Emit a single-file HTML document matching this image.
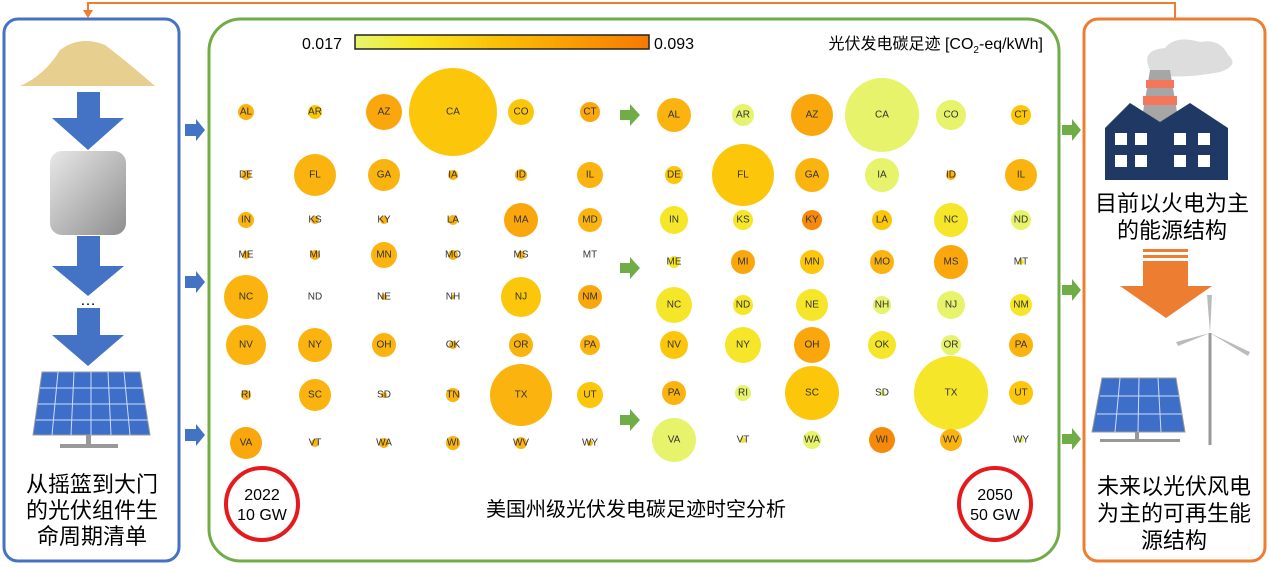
<!DOCTYPE html>
<html><head><meta charset="utf-8"><style>
html,body{margin:0;padding:0;background:#fff;width:1270px;height:568px;overflow:hidden}
svg{display:block}
text{font-family:"Liberation Sans","Noto Sans CJK SC",sans-serif}
.s text{font-size:10px;fill:#333;text-anchor:middle;dominant-baseline:central}
.cn{font-size:22px;fill:#000;text-anchor:middle}
.o{fill:#fbb30f}.y{fill:#fcc70a}.d{fill:#f9a70c}.l{fill:#e6f36b}.g{fill:#f5e62a}.r{fill:#f7890a}
</style></head><body>
<svg width="1270" height="568" viewBox="0 0 1270 568">
<defs>
<linearGradient id="cb" x1="0" x2="1"><stop offset="0" stop-color="#e6f56e"/><stop offset="0.2" stop-color="#f7e823"/><stop offset="0.5" stop-color="#fbbd05"/><stop offset="1" stop-color="#f77a00"/></linearGradient>
<linearGradient id="gr" x1="0" y1="0" x2="1" y2="1"><stop offset="0" stop-color="#e8e8e8"/><stop offset="1" stop-color="#8e8e8e"/></linearGradient>
</defs>
<polyline points="1175,18 1175,3 88,3 88,12" fill="none" stroke="#ed7d31" stroke-width="2"/>
<polygon points="83,10 93,10 88,18" fill="#ed7d31"/>
<rect x="4" y="19" width="175" height="542" rx="14" fill="none" stroke="#4472c4" stroke-width="3"/>
<rect x="209" y="19" width="850" height="542" rx="32" fill="none" stroke="#70ad47" stroke-width="3"/>
<rect x="1084" y="19" width="181" height="542" rx="14" fill="none" stroke="#ed7d31" stroke-width="3"/>
<path d="M20,86 Q45,75 60,50 Q80,35 105,45 Q125,60 155,86 Z" fill="#e7cf8f"/>
<g fill="#4472c4">
<polygon points="77,92 100,92 100,118 124,118 88,150 52,118 77,118"/>
<polygon points="77,236 100,236 100,266 124,266 88,296 52,266 77,266"/>
<polygon points="77,308 100,308 100,335 124,335 88,366 52,335 77,335"/>
</g>
<rect x="50" y="151" width="76" height="84" rx="12" fill="url(#gr)"/>
<text x="88" y="305" font-size="16" text-anchor="middle">…</text>
<polygon points="42,372 140,372 150,435 33,435" fill="#3d6fc9" stroke="#999" stroke-width="1"/>
<g stroke="#cfdcf5" stroke-width="1">
<line x1="40" y1="388" x2="143" y2="388"/><line x1="38" y1="404" x2="146" y2="404"/><line x1="36" y1="420" x2="148" y2="420"/>
<line x1="58" y1="372" x2="52" y2="435"/><line x1="74" y1="372" x2="71" y2="435"/><line x1="91" y1="372" x2="91" y2="435"/><line x1="108" y1="372" x2="111" y2="435"/><line x1="124" y1="372" x2="130" y2="435"/>
</g>
<rect x="86" y="435" width="5" height="10" fill="#999"/><rect x="60" y="444" width="58" height="4" fill="#999"/>
<text class="cn" x="92" y="492">从摇篮到大门</text>
<text class="cn" x="92" y="518">的光伏组件生</text>
<text class="cn" x="92" y="544">命周期清单</text>
<g fill="#4472c4">
<polygon points="185,124 196,124 196,119 205,130 196,141 196,136 185,136"/>
<polygon points="185,276 196,276 196,271 205,282 196,293 196,288 185,288"/>
<polygon points="185,429 196,429 196,424 205,435 196,446 196,441 185,441"/>
</g>
<g fill="#70ad47">
<polygon points="1062,125 1072,125 1072,119 1081,130 1072,141 1072,135 1062,135"/>
<polygon points="1062,285 1072,285 1072,279 1081,290 1072,301 1072,295 1062,295"/>
<polygon points="1062,434 1072,434 1072,428 1081,439 1072,450 1072,444 1062,444"/>
<polygon points="620,110 630,110 630,104 640,115 630,126 630,120 620,120"/>
<polygon points="620,263 630,263 630,257 640,268 630,279 630,273 620,273"/>
<polygon points="620,415 630,415 630,409 640,420 630,431 630,425 620,425"/>
</g>
<text x="342" y="49" font-size="16" text-anchor="end">0.017</text>
<rect x="355" y="35" width="294" height="14" fill="url(#cb)" stroke="#222" stroke-width="1.5"/>
<text x="654" y="49" font-size="16">0.093</text>
<text x="1043" y="49" font-size="16" text-anchor="end">光伏发电碳足迹 [CO<tspan font-size="10" dy="4">2</tspan><tspan dy="-4">-eq/kWh]</tspan></text>

<g class="s">
<circle cx="246" cy="112" r="8" class="o"/><text x="246" y="112">AL</text>
<circle cx="315" cy="112" r="7" class="y"/><text x="315" y="112">AR</text>
<circle cx="384" cy="112" r="18" class="d"/><text x="384" y="112">AZ</text>
<circle cx="453" cy="112" r="44" class="y"/><text x="453" y="112">CA</text>
<circle cx="521" cy="112" r="13" class="y"/><text x="521" y="112">CO</text>
<circle cx="590" cy="112" r="10" class="d"/><text x="590" y="112">CT</text>
<circle cx="246" cy="175" r="5" class="o"/><text x="246" y="175">DE</text>
<circle cx="315" cy="175" r="21" class="o"/><text x="315" y="175">FL</text>
<circle cx="384" cy="175" r="16" class="o"/><text x="384" y="175">GA</text>
<circle cx="453" cy="175" r="5" class="o"/><text x="453" y="175">IA</text>
<circle cx="521" cy="175" r="6" class="o"/><text x="521" y="175">ID</text>
<circle cx="590" cy="175" r="13" class="o"/><text x="590" y="175">IL</text>
<circle cx="246" cy="220" r="8" class="o"/><text x="246" y="220">IN</text>
<circle cx="315" cy="220" r="4" class="o"/><text x="315" y="220">KS</text>
<circle cx="384" cy="220" r="4" class="o"/><text x="384" y="220">KY</text>
<circle cx="453" cy="220" r="5" class="o"/><text x="453" y="220">LA</text>
<circle cx="521" cy="220" r="17" class="d"/><text x="521" y="220">MA</text>
<circle cx="590" cy="220" r="12" class="o"/><text x="590" y="220">MD</text>
<circle cx="246" cy="255" r="4" class="o"/><text x="246" y="255">ME</text>
<circle cx="315" cy="255" r="5" class="o"/><text x="315" y="255">MI</text>
<circle cx="384" cy="255" r="13" class="o"/><text x="384" y="255">MN</text>
<circle cx="453" cy="255" r="5" class="o"/><text x="453" y="255">MO</text>
<circle cx="521" cy="255" r="4" class="o"/><text x="521" y="255">MS</text>
<text x="590" y="255">MT</text>
<circle cx="246" cy="297" r="22" class="o"/><text x="246" y="297">NC</text>
<text x="315" y="297">ND</text>
<circle cx="384" cy="297" r="3" class="o"/><text x="384" y="297">NE</text>
<circle cx="453" cy="297" r="2" class="o"/><text x="453" y="297">NH</text>
<circle cx="521" cy="297" r="20" class="y"/><text x="521" y="297">NJ</text>
<circle cx="590" cy="297" r="12" class="d"/><text x="590" y="297">NM</text>
<circle cx="246" cy="345" r="20" class="o"/><text x="246" y="345">NV</text>
<circle cx="315" cy="345" r="17" class="o"/><text x="315" y="345">NY</text>
<circle cx="384" cy="345" r="12" class="o"/><text x="384" y="345">OH</text>
<circle cx="453" cy="345" r="4" class="o"/><text x="453" y="345">OK</text>
<circle cx="521" cy="345" r="12" class="o"/><text x="521" y="345">OR</text>
<circle cx="590" cy="345" r="10" class="o"/><text x="590" y="345">PA</text>
<circle cx="246" cy="395" r="5" class="o"/><text x="246" y="395">RI</text>
<circle cx="315" cy="395" r="16" class="o"/><text x="315" y="395">SC</text>
<circle cx="384" cy="395" r="3" class="o"/><text x="384" y="395">SD</text>
<circle cx="453" cy="395" r="7" class="o"/><text x="453" y="395">TN</text>
<circle cx="521" cy="395" r="31" class="o"/><text x="521" y="395">TX</text>
<circle cx="590" cy="395" r="13" class="y"/><text x="590" y="395">UT</text>
<circle cx="246" cy="443" r="16" class="d"/><text x="246" y="443">VA</text>
<circle cx="315" cy="443" r="4" class="o"/><text x="315" y="443">VT</text>
<circle cx="384" cy="443" r="5" class="o"/><text x="384" y="443">WA</text>
<circle cx="453" cy="443" r="7" class="o"/><text x="453" y="443">WI</text>
<circle cx="521" cy="443" r="6" class="o"/><text x="521" y="443">WV</text>
<circle cx="590" cy="443" r="3" class="o"/><text x="590" y="443">WY</text>

<circle cx="674" cy="115" r="17" class="o"/><text x="674" y="115">AL</text>
<circle cx="743" cy="115" r="11" class="l"/><text x="743" y="115">AR</text>
<circle cx="812" cy="115" r="21" class="d"/><text x="812" y="115">AZ</text>
<circle cx="882" cy="115" r="37" class="l"/><text x="882" y="115">CA</text>
<circle cx="951" cy="115" r="15" class="l"/><text x="951" y="115">CO</text>
<circle cx="1021" cy="115" r="10" class="y"/><text x="1021" y="115">CT</text>
<circle cx="674" cy="175" r="9" class="y"/><text x="674" y="175">DE</text>
<circle cx="743" cy="175" r="31" class="y"/><text x="743" y="175">FL</text>
<circle cx="812" cy="175" r="17" class="o"/><text x="812" y="175">GA</text>
<circle cx="882" cy="175" r="17" class="l"/><text x="882" y="175">IA</text>
<circle cx="951" cy="175" r="5" class="o"/><text x="951" y="175">ID</text>
<circle cx="1021" cy="175" r="16" class="o"/><text x="1021" y="175">IL</text>
<circle cx="674" cy="220" r="14" class="g"/><text x="674" y="220">IN</text>
<circle cx="743" cy="220" r="10" class="g"/><text x="743" y="220">KS</text>
<circle cx="812" cy="220" r="10" class="r"/><text x="812" y="220">KY</text>
<circle cx="882" cy="220" r="10" class="y"/><text x="882" y="220">LA</text>
<circle cx="951" cy="220" r="17" class="g"/><text x="951" y="220">NC</text>
<circle cx="1021" cy="220" r="10" class="l"/><text x="1021" y="220">ND</text>
<circle cx="674" cy="262" r="6" class="g"/><text x="674" y="262">ME</text>
<circle cx="743" cy="262" r="12" class="d"/><text x="743" y="262">MI</text>
<circle cx="812" cy="262" r="12" class="y"/><text x="812" y="262">MN</text>
<circle cx="882" cy="262" r="12" class="o"/><text x="882" y="262">MO</text>
<circle cx="951" cy="262" r="17" class="d"/><text x="951" y="262">MS</text>
<circle cx="1021" cy="262" r="3" class="g"/><text x="1021" y="262">MT</text>
<circle cx="674" cy="305" r="18" class="g"/><text x="674" y="305">NC</text>
<circle cx="743" cy="305" r="10" class="g"/><text x="743" y="305">ND</text>
<circle cx="812" cy="305" r="16" class="g"/><text x="812" y="305">NE</text>
<circle cx="882" cy="305" r="9" class="l"/><text x="882" y="305">NH</text>
<circle cx="951" cy="305" r="14" class="l"/><text x="951" y="305">NJ</text>
<circle cx="1021" cy="305" r="11" class="g"/><text x="1021" y="305">NM</text>
<circle cx="674" cy="345" r="14" class="y"/><text x="674" y="345">NV</text>
<circle cx="743" cy="345" r="18" class="g"/><text x="743" y="345">NY</text>
<circle cx="812" cy="345" r="18" class="d"/><text x="812" y="345">OH</text>
<circle cx="882" cy="345" r="14" class="g"/><text x="882" y="345">OK</text>
<circle cx="951" cy="345" r="10" class="l"/><text x="951" y="345">OR</text>
<circle cx="1021" cy="345" r="12" class="o"/><text x="1021" y="345">PA</text>
<circle cx="674" cy="393" r="12" class="o"/><text x="674" y="393">PA</text>
<circle cx="743" cy="393" r="8" class="l"/><text x="743" y="393">RI</text>
<circle cx="812" cy="393" r="27" class="y"/><text x="812" y="393">SC</text>
<circle cx="882" cy="393" r="3" class="l"/><text x="882" y="393">SD</text>
<circle cx="951" cy="393" r="37" class="g"/><text x="951" y="393">TX</text>
<circle cx="1021" cy="393" r="12" class="y"/><text x="1021" y="393">UT</text>
<circle cx="674" cy="440" r="22" class="l"/><text x="674" y="440">VA</text>
<circle cx="743" cy="440" r="3" class="g"/><text x="743" y="440">VT</text>
<circle cx="812" cy="440" r="9" class="l"/><text x="812" y="440">WA</text>
<circle cx="882" cy="440" r="13" class="r"/><text x="882" y="440">WI</text>
<circle cx="951" cy="440" r="11" class="o"/><text x="951" y="440">WV</text>
<circle cx="1021" cy="440" r="3" class="l"/><text x="1021" y="440">WY</text>
</g>

<circle cx="262" cy="504" r="36" fill="none" stroke="#e41a1c" stroke-width="4"/>
<text x="262" y="500" font-size="16" text-anchor="middle">2022</text>
<text x="262" y="520" font-size="16" text-anchor="middle">10 GW</text>
<circle cx="995" cy="504" r="36" fill="none" stroke="#e41a1c" stroke-width="4"/>
<text x="995" y="500" font-size="16" text-anchor="middle">2050</text>
<text x="995" y="520" font-size="16" text-anchor="middle">50 GW</text>
<text x="636" y="516" font-size="20" text-anchor="middle">美国州级光伏发电碳足迹时空分析</text>

<path d="M1150,70 Q1140,50 1165,48 Q1175,35 1200,42 Q1220,38 1228,55 Q1240,65 1220,72 Q1190,78 1160,76 Z" fill="#dddddd"/>
<polygon points="1150,70 1170,70 1180,130 1140,130" fill="#a6a6a6"/>
<rect x="1146" y="80" width="28" height="8" fill="#f4775b"/><rect x="1143" y="96" width="34" height="9" fill="#f4775b"/>
<polygon points="1105,128 1130,103 1160,122 1190,103 1228,128 1228,180 1105,180" fill="#203864"/>
<g fill="#fff">
<rect x="1115" y="133" width="12" height="12"/><rect x="1135" y="133" width="12" height="12"/><rect x="1174" y="133" width="12" height="12"/><rect x="1198" y="133" width="12" height="12"/>
<rect x="1115" y="155" width="12" height="12"/><rect x="1135" y="155" width="12" height="12"/><rect x="1174" y="155" width="12" height="12"/><rect x="1198" y="155" width="12" height="12"/>
</g>
<text class="cn" x="1172" y="211">目前以火电为主</text>
<text class="cn" x="1172" y="238">的能源结构</text>
<rect x="1143" y="249" width="45" height="3" fill="#ed7d31"/><rect x="1143" y="255" width="45" height="3" fill="#ed7d31"/>
<polygon points="1143,261 1188,261 1188,286 1212,286 1166,318 1120,286 1143,286" fill="#ed7d31"/>
<line x1="1210" y1="333" x2="1210" y2="445" stroke="#999" stroke-width="3"/>
<polygon points="1210,333 1207,295 1212,295" fill="#bbb"/><polygon points="1210,333 1250,352 1248,356" fill="#bbb"/><polygon points="1210,333 1178,346 1176,342" fill="#bbb"/>
<polygon points="1102,378 1176,378 1185,432 1092,432" fill="#3d6fc9" stroke="#999"/>
<g stroke="#cfdcf5"><line x1="1100" y1="396" x2="1179" y2="396"/><line x1="1097" y1="414" x2="1182" y2="414"/><line x1="1120" y1="378" x2="1115" y2="432"/><line x1="1139" y1="378" x2="1138" y2="432"/><line x1="1158" y1="378" x2="1161" y2="432"/></g>
<rect x="1135" y="432" width="4" height="8" fill="#999"/><rect x="1100" y="439" width="80" height="3" fill="#999"/>
<text class="cn" x="1174" y="494">未来以光伏风电</text>
<text class="cn" x="1174" y="521">为主的可再生能</text>
<text class="cn" x="1174" y="548">源结构</text>
</svg>
</body></html>
